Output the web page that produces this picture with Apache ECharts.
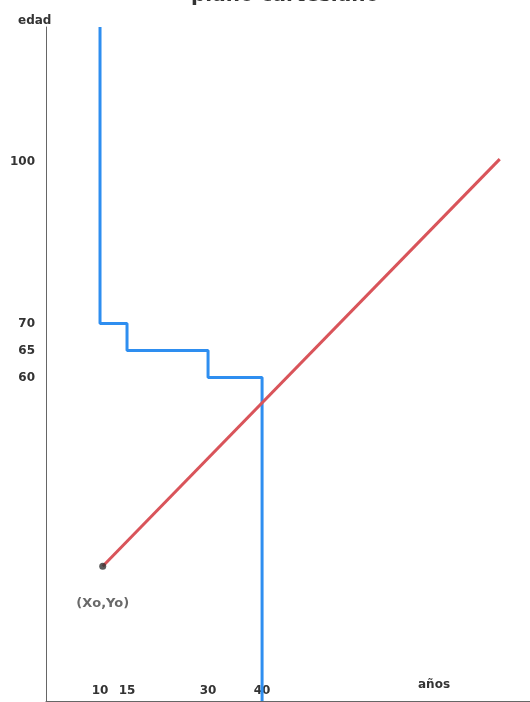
<!DOCTYPE html>
<html>
<head>
<meta charset="utf-8">
<script src="https://cdn.jsdelivr.net/npm/echarts@6/dist/echarts.min.js"></script>
<style>
html,body{margin:0;padding:0;background:#fff;}
#c{width:530px;height:702px;}
</style>
</head>
<body>
<div id="c"></div>
<script>
// Data
const titleText = 'plano cartesiano';
const xName = 'años';
const yName = 'edad';
const xTicks = [10, 15, 30, 40];
const yTicks = [60, 65, 70, 100];
// blue step line (años, edad) corner points
const blueX = [10, 10, 15, 15, 30, 30, 40, 40];
const blueY = [125, 70, 70, 65, 65, 60, 60, 0];
// red line from origin point to end
const redX = [10.5, 84];
const redY = [25, 100.5];
const originLabel = '(Xo,Yo)';

const blueData = blueX.map((x, i) => [x, blueY[i]]);
const redData = redX.map((x, i) => [x, redY[i]]);

const chart = echarts.init(document.getElementById('c'), null, {renderer: 'canvas'});
const labelFont = {fontFamily: 'DejaVu Sans', fontSize: 12, fontWeight: 'bold', color: '#333'};

chart.setOption({
  backgroundColor: '#ffffff',
  animation: false,
  title: {
    text: titleText,
    left: 186,
    top: -19,
    textStyle: {fontFamily: 'DejaVu Sans', fontSize: 20, fontWeight: 'bold', color: '#333'}
  },
  grid: {left: 46, right: 0, top: 27, bottom: 1, containLabel: false},
  xAxis: {
    type: 'value', min: 0, max: 89.6,
    axisLine: {show: true, lineStyle: {color: '#666', width: 1}},
    axisTick: {show: false},
    splitLine: {show: false},
    axisLabel: Object.assign({inside: true, margin: 4, customValues: xTicks}, labelFont)
  },
  yAxis: {
    type: 'value', min: 0, max: 125,
    axisLine: {show: true, lineStyle: {color: '#666', width: 1}},
    axisTick: {show: false},
    splitLine: {show: false},
    axisLabel: Object.assign({margin: 11, customValues: yTicks, padding: [4, 0, 0, 0]}, labelFont)
  },
  graphic: [
    {type: 'text', left: 18, top: 15, style: {text: yName, font: 'bold 12px "DejaVu Sans"', fill: '#333'}},
    {type: 'text', left: 418, top: 679, style: {text: xName, font: 'bold 12px "DejaVu Sans"', fill: '#333'}}
  ],
  series: [
    {
      type: 'line', data: blueData, symbol: 'none',
      lineStyle: {color: '#2e8ef0', width: 3},
      z: 2
    },
    {
      type: 'line', data: redData, symbol: 'none',
      lineStyle: {color: '#d9545a', width: 3},
      z: 3
    },
    {
      type: 'scatter', data: [redData[0]], symbolSize: 7,
      itemStyle: {color: '#333'},
      label: {show: true, position: 'bottom', distance: 27, formatter: originLabel,
        fontFamily: 'DejaVu Sans', fontSize: 13, fontWeight: 'bold', color: '#444'},
      z: 4
    }
  ]
});
</script>
</body>
</html>
